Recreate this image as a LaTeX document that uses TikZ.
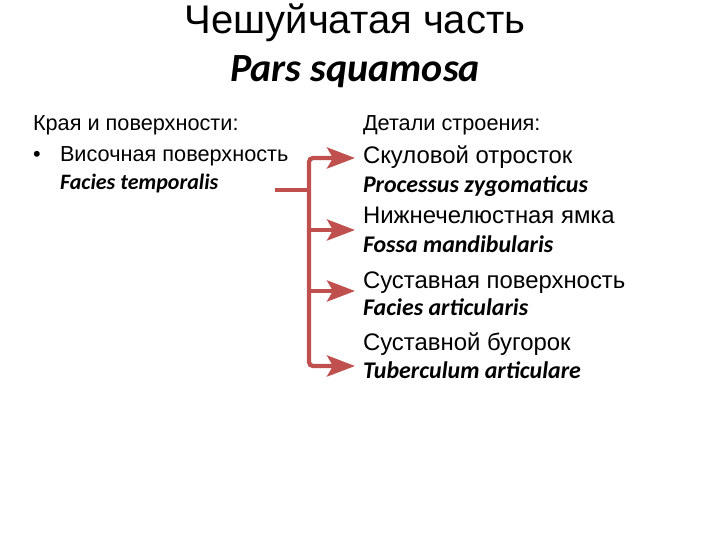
\documentclass[tikz,border=0pt]{standalone}
\usepackage{fontspec}
\setmainfont{Liberation Sans}
\newfontfamily\lat{Carlito}
\usetikzlibrary{arrows.meta}
\definecolor{arrred}{HTML}{C0504D}
\newcommand{\fs}[1]{\fontsize{#1}{#1}\selectfont}
\tikzset{
  txt/.style={anchor=base west, inner sep=0pt, outer sep=0pt},
  ru/.style={txt, font=\fs{21.7}},
  rubig/.style={txt, font=\fs{23.9}},
  la/.style={txt, font=\lat\bfseries\itshape\fs{23.9}},
  lasmall/.style={txt, font=\lat\bfseries\itshape\fs{22}},
  arr/.style={draw=arrred, line width=4.3pt, -{Stealth[length=28pt, width=21pt, inset=6pt]}, rounded corners=4pt},
  stub/.style={draw=arrred, line width=4.3pt}
}
\begin{document}
\begin{tikzpicture}[x=1pt, y=-1pt]
\useasboundingbox (0,0) rectangle (720,540);
% title
\node[anchor=base, inner sep=0pt, font=\fs{40}] (title) at (355,34) {Чешуйчатая часть};
\node[anchor=base, inner sep=0pt, font=\lat\bfseries\itshape\fs{40}] (subtitle) at (355,82) {Pars squamosa};
% left column
\node[ru] (lhead) at (33,131) {Края и поверхности:};
\node[txt, font=\fs{21.7}] (bullet) at (33,162) {•};
\node[ru] (l1) at (60,162) {Височная поверхность};
\node[lasmall] (l1l) at (60,190) {Facies temporalis};
% right column
\node[ru] (rhead) at (363,131) {Детали строения:};
\node[rubig] (r1) at (363,164) {Скуловой отросток};
\node[la] (r1l) at (363,193) {Processus zygomaticus};
\node[rubig] (r2) at (363,224) {Нижнечелюстная ямка};
\node[la] (r2l) at (363,252) {Fossa mandibularis};
\node[rubig] (r3) at (363,288) {Суставная поверхность};
\node[la] (r3l) at (363,315) {Facies articularis};
\node[rubig] (r4) at (363,350) {Суставной бугорок};
\node[la] (r4l) at (363,378) {Tuberculum articulare};
% connectors
\coordinate (s) at (275,190);
\coordinate (j) at (309,190);
\coordinate (j2) at (309,230);
\coordinate (j3) at (309,291);
\coordinate (t1) at (355,158);
\coordinate (t2) at (355,230);
\coordinate (t3) at (355,291);
\coordinate (t4) at (355,366);
\draw[stub] (s) -- (j);
\draw[arr] (j) |- (t1);
\draw[arr] (j) |- (t4);
\draw[arr] (j2) -- (t2);
\draw[arr] (j3) -- (t3);
\end{tikzpicture}
\end{document}
